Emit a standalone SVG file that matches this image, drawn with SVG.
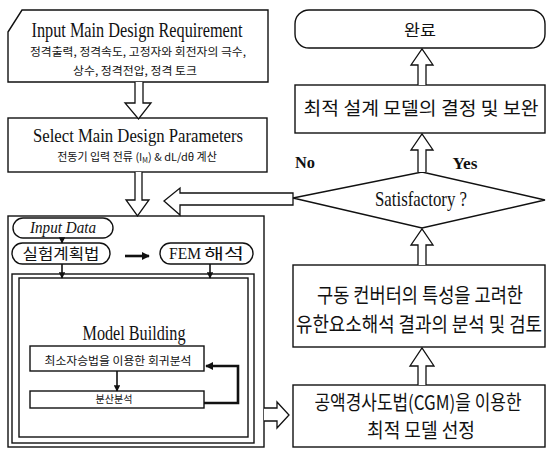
<svg xmlns="http://www.w3.org/2000/svg" width="547" height="450" viewBox="0 0 547 450">
<style>
.b{fill:#fff;stroke:#111;stroke-width:1.4}
.h{fill:#fff;stroke:#111;stroke-width:1.3;stroke-linejoin:miter}
.l{fill:none;stroke:#111;stroke-width:1.6}
.lt{fill:none;stroke:#111;stroke-width:2.6}
.en{font-family:"Liberation Serif","Times New Roman",serif;fill:#111}
.ko{font-family:"Noto Sans CJK KR","Noto Sans",sans-serif;fill:#111}
</style>
<defs>
<marker id="ah" viewBox="0 0 10 10" refX="9" refY="5" markerWidth="4" markerHeight="4" orient="auto" markerUnits="strokeWidth">
<path d="M0,0 L10,5 L0,10 Z" fill="#111"/>
</marker>
<marker id="ah2" viewBox="0 0 10 10" refX="9" refY="5" markerWidth="3.2" markerHeight="3.2" orient="auto" markerUnits="strokeWidth">
<path d="M0,0 L10,5 L0,10 Z" fill="#111"/>
</marker>
</defs>

<g id="node-requirement">
<polygon class="b" points="8,32 22,10 268,10 268,82 8,82"/>
<text class="en" x="137" y="37" font-size="21" text-anchor="middle" textLength="211" lengthAdjust="spacingAndGlyphs">Input Main Design Requirement</text>
<text class="ko" x="138" y="56" font-size="11" text-anchor="middle" textLength="216" lengthAdjust="spacingAndGlyphs">정격출력, 정격속도, 고정자와 회전자의 극수,</text>
<text class="ko" x="135" y="75" font-size="11" text-anchor="middle" textLength="124" lengthAdjust="spacingAndGlyphs">상수, 정격전압, 정격 토크</text>
</g>

<g id="node-parameters">
<rect class="b" x="8" y="118" width="259" height="54"/>
<text class="en" x="138" y="142" font-size="19" text-anchor="middle" textLength="210" lengthAdjust="spacingAndGlyphs">Select Main Design Parameters</text>
<text class="ko" x="137" y="161" font-size="11" text-anchor="middle">전동기 입력 전류 (I<tspan font-size="7" dy="2">M</tspan><tspan dy="-2">) &amp; dL/dθ 계산</tspan></text>
</g>

<g id="node-doe-block">
<rect class="b" x="8" y="216" width="256" height="231"/>
</g>

<g id="node-input-data">
<rect class="b" x="13" y="218" width="100" height="20" rx="10"/>
<text class="en" x="63" y="233" font-size="16" font-style="italic" text-anchor="middle" textLength="66" lengthAdjust="spacingAndGlyphs">Input Data</text>
</g>

<g id="node-doe">
<rect class="b" x="12" y="243" width="98" height="21" rx="10.5"/>
<text class="ko" x="61" y="259" font-size="15" text-anchor="middle" textLength="77" lengthAdjust="spacingAndGlyphs">실험계획법</text>
</g>

<g id="node-fem">
<rect class="b" x="160" y="243" width="93" height="21" rx="10.5"/>
<text class="en" x="185" y="259" font-size="17" text-anchor="middle" textLength="32" lengthAdjust="spacingAndGlyphs">FEM</text>
<text class="ko" x="224" y="259" font-size="15" text-anchor="middle" textLength="40" lengthAdjust="spacingAndGlyphs">해석</text>
</g>

<g id="node-model-building">
<rect class="b" x="12" y="274" width="242" height="169"/>
<rect class="b" x="19" y="278" width="229" height="159"/>
<text class="en" x="134" y="340" font-size="20" text-anchor="middle" textLength="103" lengthAdjust="spacingAndGlyphs">Model Building</text>
</g>

<g id="node-regression">
<rect class="b" x="30" y="346" width="174" height="25"/>
<text class="ko" x="118" y="365" font-size="11" text-anchor="middle" textLength="147" lengthAdjust="spacingAndGlyphs">최소자승법을 이용한 회귀분석</text>
</g>

<g id="node-anova">
<rect class="b" x="30" y="391" width="174" height="17"/>
<text class="ko" x="114" y="403" font-size="10" text-anchor="middle" textLength="37" lengthAdjust="spacingAndGlyphs">분산분석</text>
</g>

<g id="node-done">
<rect class="b" x="295" y="10" width="250" height="38" rx="14"/>
<text class="ko" x="420" y="36" font-size="16" text-anchor="middle" textLength="32" lengthAdjust="spacingAndGlyphs">완료</text>
</g>

<g id="node-final-model">
<rect class="b" x="295" y="85" width="250" height="48"/>
<text class="ko" transform="translate(421,115) scale(1,1.15)" font-size="16" text-anchor="middle" textLength="235" lengthAdjust="spacingAndGlyphs">최적 설계 모델의 결정 및 보완</text>
</g>

<g id="node-satisfactory">
<polygon class="b" points="293,198 422,172 545,200 422,228"/>
<text class="en" x="421" y="206" font-size="21" text-anchor="middle" textLength="92" lengthAdjust="spacingAndGlyphs">Satisfactory ?</text>
</g>

<g id="node-fea-review">
<rect class="b" x="293" y="265" width="252" height="82"/>
<text class="ko" transform="translate(420,303) scale(1,1.22)" font-size="17" text-anchor="middle" textLength="206" lengthAdjust="spacingAndGlyphs">구동 컨버터의 특성을 고려한</text>
<text class="ko" transform="translate(419,332) scale(1,1.22)" font-size="17" text-anchor="middle" textLength="246" lengthAdjust="spacingAndGlyphs">유한요소해석 결과의 분석 및 검토</text>
</g>

<g id="node-cgm">
<rect class="b" x="293" y="385" width="252" height="62"/>
<text class="ko" transform="translate(418,410) scale(1,1.18)" font-size="17" text-anchor="middle" textLength="207" lengthAdjust="spacingAndGlyphs">공액경사도법(CGM)을 이용한</text>
<text class="ko" transform="translate(421,438) scale(1,1.18)" font-size="17" text-anchor="middle" textLength="108" lengthAdjust="spacingAndGlyphs">최적 모델 선정</text>
</g>

<g id="connectors">
<path class="h" d="M135,82 V103 H125 L138.5,119 L151,103 H143 V82"/>
<path class="h" d="M135,172 V200 H126 L137.5,216 L149,200 H142 V172"/>
<path class="h" d="M293,193 H180 V188 L164,201 L180,215 V205 H293 Z"/>
<path class="h" d="M264,408 H277 V402 L289,415 L277,428 V421 H264"/>
<path class="h" d="M418,85 V65 H411 L422,49 L433,65 H426 V85"/>
<path class="h" d="M418,172 V150 H411 L422,134 L433,150 H426 V172"/>
<path class="h" d="M418,265 V245 H411 L422,229 L433,245 H426 V265"/>
<path class="h" d="M418,385 V366 H410 L422,348 L434,366 H426 V385"/>
<line class="l" x1="62" y1="238" x2="62" y2="243" marker-end="url(#ah)"/>
<line class="l" x1="62" y1="264" x2="62" y2="278" marker-end="url(#ah)"/>
<line class="l" x1="210" y1="264" x2="210" y2="278" marker-end="url(#ah)"/>
<line class="lt" x1="125" y1="256" x2="149" y2="256" marker-end="url(#ah2)"/>
<line class="l" x1="117" y1="371" x2="117" y2="391" marker-end="url(#ah)"/>
<path class="lt" d="M204,403 H238 V366 H206" marker-end="url(#ah2)"/>
<text class="en" x="305" y="168" font-size="17" font-weight="bold" text-anchor="middle" textLength="20" lengthAdjust="spacingAndGlyphs">No</text>
<text class="en" x="465" y="169" font-size="17" font-weight="bold" text-anchor="middle" textLength="25" lengthAdjust="spacingAndGlyphs">Yes</text>
</g>
</svg>
